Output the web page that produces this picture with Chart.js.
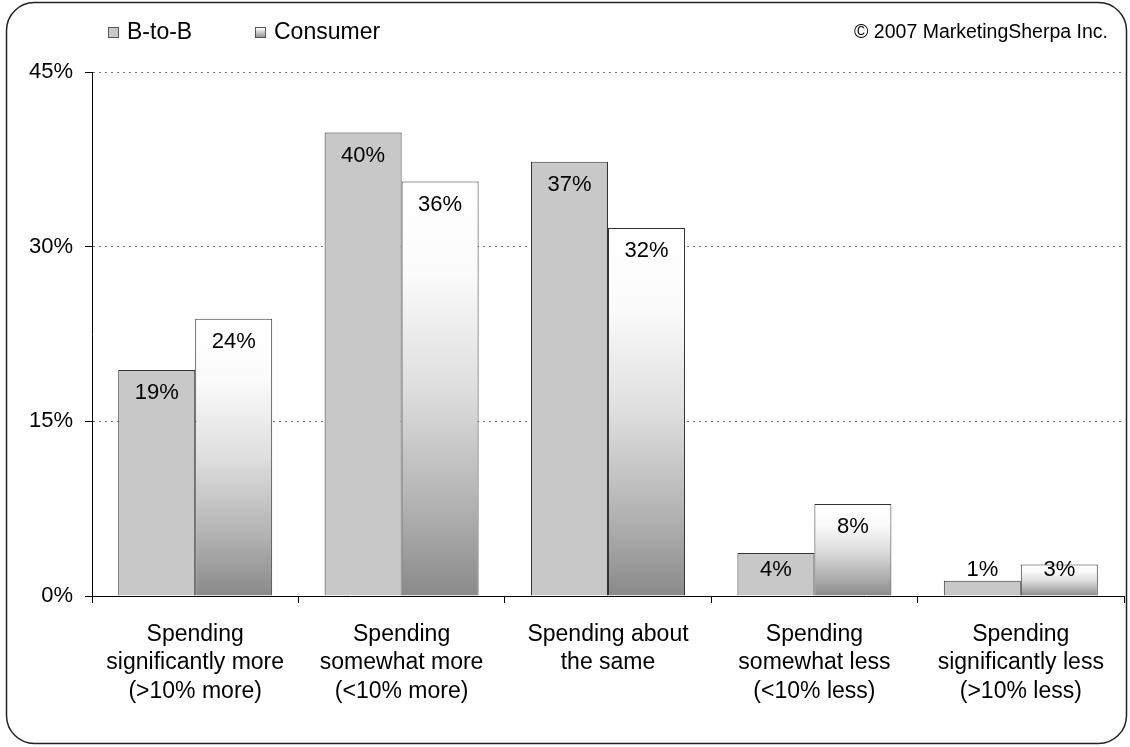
<!DOCTYPE html>
<html lang="en">
<head>
    <meta charset="UTF-8">
    <title>Marketing spend outlook</title>
    <script src="https://cdn.jsdelivr.net/npm/chart.js"></script>
    <style>
        html, body { margin: 0; padding: 0; background: #fff; }
        #wrap { width: 1130px; height: 747px; position: relative; }
    </style>
</head>
<body>
    <div id="wrap">
        <canvas id="spendChart" width="1130" height="747"></canvas>
    </div>

    <script>
        const categories = [
            ['Spending', 'significantly more', '(>10% more)'],
            ['Spending', 'somewhat more', '(<10% more)'],
            ['Spending about', 'the same'],
            ['Spending', 'somewhat less', '(<10% less)'],
            ['Spending', 'significantly less', '(>10% less)']
        ];
        const seriesNames = ['B-to-B', 'Consumer'];
        const b2bValues = [19.4, 39.8, 37.3, 3.7, 1.3];
        const consumerValues = [23.8, 35.6, 31.6, 7.9, 2.7];
        const yTicks = [0, 15, 30, 45];

        const FONT = 'Liberation Sans, Arial, sans-serif';

        // vertical white-to-grey fill, spanning each bar from its top to the baseline
        function consumerFill(ctx) {
            const chart = ctx.chart;
            const y = chart.scales.y;
            if (!y || !chart.chartArea || ctx.raw === undefined) return '#d0d0d0';
            const top = y.getPixelForValue(ctx.raw);
            const bottom = y.getPixelForValue(0);
            const g = chart.ctx.createLinearGradient(0, top, 0, bottom);
            g.addColorStop(0, '#ffffff');
            g.addColorStop(0.22, '#fbfbfb');
            g.addColorStop(0.5, '#dedede');
            g.addColorStop(0.78, '#b2b2b2');
            g.addColorStop(1, '#8a8a8a');
            return g;
        }

        // rounded outer frame, legend, copyright and value labels
        const decorations = {
            id: 'decorations',
            beforeDraw(chart) {
                const c = chart.ctx;
                c.save();
                c.fillStyle = '#fff';
                c.fillRect(0, 0, chart.width, chart.height);
                c.restore();
            },
            afterDraw(chart) {
                const c = chart.ctx;
                c.save();

                // frame
                c.strokeStyle = '#222';
                c.lineWidth = 1.5;
                c.beginPath();
                c.roundRect(6.5, 2.5, 1120, 741, 28);
                c.stroke();

                // legend
                c.font = '23px ' + FONT;
                c.textBaseline = 'middle';
                c.textAlign = 'left';
                const items = [
                    { x: 108, fill: '#c8c8c8' },
                    { x: 255, fill: null }
                ];
                items.forEach((it, i) => {
                    if (it.fill) {
                        c.fillStyle = it.fill;
                    } else {
                        const g = c.createLinearGradient(0, 28, 0, 38);
                        g.addColorStop(0, '#ffffff');
                        g.addColorStop(1, '#8a8a8a');
                        c.fillStyle = g;
                    }
                    c.fillRect(it.x + 0.5, 27.5, 10, 10);
                    c.strokeStyle = '#555';
                    c.lineWidth = 1;
                    c.strokeRect(it.x + 0.5, 27.5, 10, 10);
                    c.fillStyle = '#000';
                    c.fillText(seriesNames[i], it.x + 19, 33);
                });

                // copyright
                c.font = '19.5px ' + FONT;
                c.textAlign = 'right';
                c.fillText('\u00a9 2007 MarketingSherpa Inc.', 1108, 33);

                // value labels inside the bars
                const yScale = chart.scales.y;
                const base = yScale.getPixelForValue(0);
                c.font = '22px ' + FONT;
                c.textAlign = 'center';
                c.fillStyle = '#000';
                chart.data.datasets.forEach((ds, di) => {
                    const meta = chart.getDatasetMeta(di);
                    meta.data.forEach((bar, i) => {
                        const v = ds.data[i];
                        const ly = Math.min(bar.y + 23, base - 26);
                        c.fillText(Math.round(v) + '%', bar.x, ly);
                    });
                });

                c.restore();
            }
        };

        new Chart(document.getElementById('spendChart'), {
            type: 'bar',
            data: {
                labels: categories,
                datasets: [
                    {
                        label: seriesNames[0],
                        data: b2bValues,
                        backgroundColor: '#c8c8c8',
                        borderColor: '#333',
                        borderWidth: 1,
                        borderSkipped: 'bottom'
                    },
                    {
                        label: seriesNames[1],
                        data: consumerValues,
                        backgroundColor: consumerFill,
                        borderColor: '#333',
                        borderWidth: 1,
                        borderSkipped: 'bottom'
                    }
                ]
            },
            options: {
                responsive: false,
                animation: false,
                devicePixelRatio: 1,
                layout: { padding: { top: 72, right: 6, left: 0, bottom: 0 } },
                datasets: {
                    bar: { categoryPercentage: 0.746, barPercentage: 1 }
                },
                plugins: {
                    legend: { display: false },
                    tooltip: { enabled: false }
                },
                scales: {
                    x: {
                        grid: {
                            offset: true,
                            drawOnChartArea: false,
                            drawTicks: true,
                            tickLength: 7,
                            tickColor: '#000',
                            tickWidth: 1
                        },
                        border: { color: '#000', width: 1 },
                        ticks: {
                            color: '#000',
                            font: { family: FONT, size: 23, lineHeight: 1.24 },
                            padding: 17,
                            maxRotation: 0,
                            autoSkip: false
                        },
                        afterFit(scale) { scale.height = 151; }
                    },
                    y: {
                        min: 0,
                        max: 45,
                        afterBuildTicks(scale) {
                            scale.ticks = yTicks.map(v => ({ value: v }));
                        },
                        grid: {
                            color: '#777',
                            lineWidth: 1,
                            tickBorderDash: [],
                            tickColor: '#000',
                            tickLength: 7
                        },
                        // border.dash sets the dotted horizontal grid lines
                        border: { color: '#000', width: 1, dash: [2, 4] },
                        ticks: {
                            color: '#000',
                            font: { family: FONT, size: 22 },
                            padding: 12,
                            callback: v => v + '%'
                        },
                        afterFit(scale) { scale.width = 92; }
                    }
                }
            },
            plugins: [decorations]
        });
    </script>
</body>
</html>
